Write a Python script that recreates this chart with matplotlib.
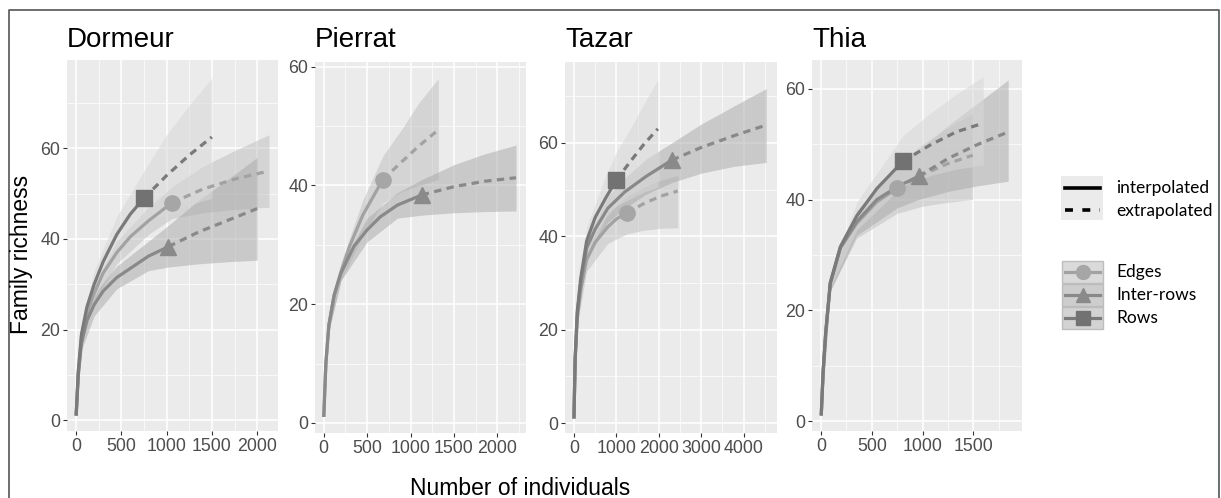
import matplotlib
matplotlib.use("Agg")
import matplotlib.pyplot as plt
from matplotlib.patches import Rectangle
from matplotlib.lines import Line2D
from matplotlib.ticker import MultipleLocator

plt.rcParams['font.family'] = ['Liberation Sans', 'DejaVu Sans']

# ---- data ----
sites = ['Dormeur', 'Pierrat', 'Tazar', 'Thia']
groups = ['Edges', 'Inter-rows', 'Rows']

# Dormeur
dor_edges_n = [1, 25, 60, 120, 200, 300, 450, 600, 800, 1060]
dor_edges_s = [1, 10.5, 18.5, 23.5, 28, 32.5, 37, 40.5, 44, 48]
dor_edges_en = [1060, 1400, 1750, 2130]
dor_edges_es = [48, 51, 53.2, 55]
dor_edges_bn = [1, 60, 200, 450, 800, 1060, 1400, 1750, 2130]
dor_edges_hi = [1, 20, 30, 39.5, 47, 51.5, 56, 59.5, 63]
dor_edges_lo = [1, 17, 26, 34.5, 41, 44.5, 45.8, 46.5, 47]

dor_inter_n = [1, 25, 60, 120, 200, 300, 450, 600, 800, 1020]
dor_inter_s = [1, 10, 17, 22, 25.5, 28.5, 31.5, 33.5, 36.2, 38.3]
dor_inter_en = [1020, 1350, 1700, 2000]
dor_inter_es = [38.3, 41.5, 44.3, 46.7]
dor_inter_bn = [1, 60, 200, 450, 800, 1020, 1350, 1700, 2000]
dor_inter_hi = [1, 18.5, 28, 34, 39.5, 43, 48.5, 53.5, 58]
dor_inter_lo = [1, 15.5, 23, 29, 33, 33.8, 34.5, 35, 35.3]

dor_rows_n = [1, 25, 60, 120, 200, 300, 450, 600, 750]
dor_rows_s = [1, 11, 19, 25, 30, 35, 41, 45.5, 49]
dor_rows_en = [750, 1000, 1250, 1500]
dor_rows_es = [49, 54, 58.5, 62.5]
dor_rows_bn = [1, 60, 200, 450, 750, 1000, 1250, 1500]
dor_rows_hi = [1, 21, 33, 45, 55, 63, 69.5, 75.5]
dor_rows_lo = [1, 17, 27, 37, 43, 45.5, 47.5, 49]

# Pierrat
pie_edges_n = [1, 25, 60, 120, 200, 300, 450, 682]
pie_edges_s = [1, 10, 16.5, 21.5, 25.5, 29.8, 35, 41]
pie_edges_en = [682, 900, 1100, 1290]
pie_edges_es = [41, 44, 46.7, 49]
pie_edges_bn = [1, 60, 200, 450, 682, 900, 1100, 1320]
pie_edges_hi = [1, 17.5, 27, 37.5, 45, 49.5, 54, 58]
pie_edges_lo = [1, 15.5, 24, 31.5, 37, 39, 40, 41]

pie_inter_n = [1, 25, 60, 120, 200, 350, 500, 650, 850, 1130]
pie_inter_s = [1, 10, 16.5, 21.5, 25.3, 29.8, 32.5, 34.7, 36.7, 38.4]
pie_inter_en = [1130, 1500, 1850, 2215]
pie_inter_es = [38.4, 39.8, 40.7, 41.3]
pie_inter_bn = [1, 60, 200, 500, 850, 1130, 1500, 1850, 2215]
pie_inter_hi = [1, 17.5, 26.5, 34.5, 38.8, 41, 43.5, 45.3, 46.8]
pie_inter_lo = [1, 15.5, 24, 30.5, 34.5, 35, 35.4, 35.6, 35.7]

# Tazar
taz_edges_n = [1, 30, 80, 160, 300, 500, 800, 1000, 1250]
taz_edges_s = [1, 13.5, 22.5, 28.5, 35, 38.7, 42, 43.7, 45]
taz_edges_en = [1250, 1650, 2050, 2450]
taz_edges_es = [45, 47, 48.6, 49.7]
taz_edges_bn = [1, 80, 300, 800, 1250, 1650, 2050, 2450]
taz_edges_hi = [1, 24, 37.5, 45, 48.5, 50.5, 52, 53]
taz_edges_lo = [1, 21, 32.5, 38.5, 40.5, 41.3, 41.7, 41.8]

taz_inter_n = [1, 30, 80, 160, 300, 500, 800, 1200, 1700, 2310]
taz_inter_s = [1, 14, 23.5, 30, 37.5, 41.5, 46, 49.5, 52.8, 56.3]
taz_inter_en = [2310, 3000, 3800, 4535]
taz_inter_es = [56.3, 59, 61.6, 63.8]
taz_inter_bn = [1, 80, 300, 800, 1200, 1700, 2310, 3000, 3800, 4535]
taz_inter_hi = [1, 25, 39.5, 48.5, 52.5, 56.5, 60, 64, 68, 71.6]
taz_inter_lo = [1, 22, 35, 43, 46, 49, 51.5, 53.5, 55, 55.8]

taz_rows_n = [1, 30, 80, 160, 300, 500, 750, 1000]
taz_rows_s = [1, 14, 24, 31, 39, 44, 48.2, 52]
taz_rows_en = [1000, 1330, 1660, 1980]
taz_rows_es = [52, 56, 59.8, 63]
taz_rows_bn = [1, 80, 300, 750, 1000, 1330, 1660, 1980]
taz_rows_hi = [1, 26, 42, 53, 58, 63, 68.5, 73.5]
taz_rows_lo = [1, 22, 35.5, 44, 46.5, 48, 49.5, 50.5]

# Thia
thi_edges_n = [1, 20, 45, 90, 190, 350, 550, 747]
thi_edges_s = [1, 9, 15.8, 24.8, 31.3, 35.7, 39.6, 42]
thi_edges_en = [747, 1000, 1250, 1494]
thi_edges_es = [42, 44.5, 46.5, 48]
thi_edges_bn = [1, 90, 350, 747, 1000, 1250, 1494]
thi_edges_hi = [1, 26, 38, 46.5, 50, 53, 55.5]
thi_edges_lo = [1, 23.5, 33, 37.5, 38.8, 39.5, 40]

thi_inter_n = [1, 20, 45, 90, 190, 350, 550, 750, 960]
thi_inter_s = [1, 9, 15.8, 24.8, 31.3, 36, 40, 42.3, 44.2]
thi_inter_en = [960, 1260, 1550, 1844]
thi_inter_es = [44.2, 47.5, 50, 52.2]
thi_inter_bn = [1, 90, 350, 750, 960, 1260, 1550, 1844]
thi_inter_hi = [1, 26, 38, 46, 49, 53.5, 57.5, 61.6]
thi_inter_lo = [1, 23.5, 33.5, 38.5, 40, 41.5, 42.5, 43.3]

thi_rows_n = [1, 20, 45, 90, 190, 350, 550, 806]
thi_rows_s = [1, 9, 16, 25, 31.5, 37, 42, 46.9]
thi_rows_en = [806, 1070, 1330, 1598]
thi_rows_es = [46.9, 49.8, 52.2, 53.8]
thi_rows_bn = [1, 90, 350, 806, 1070, 1330, 1598]
thi_rows_hi = [1, 26, 39.5, 51.5, 55.5, 59, 62.2]
thi_rows_lo = [1, 24, 34.5, 42.5, 44.3, 45.5, 46.2]

series = {
    'Dormeur': [
        ('Edges', dor_edges_n, dor_edges_s, dor_edges_en, dor_edges_es, dor_edges_bn, dor_edges_lo, dor_edges_hi),
        ('Inter-rows', dor_inter_n, dor_inter_s, dor_inter_en, dor_inter_es, dor_inter_bn, dor_inter_lo, dor_inter_hi),
        ('Rows', dor_rows_n, dor_rows_s, dor_rows_en, dor_rows_es, dor_rows_bn, dor_rows_lo, dor_rows_hi)],
    'Pierrat': [
        ('Edges', pie_edges_n, pie_edges_s, pie_edges_en, pie_edges_es, pie_edges_bn, pie_edges_lo, pie_edges_hi),
        ('Inter-rows', pie_inter_n, pie_inter_s, pie_inter_en, pie_inter_es, pie_inter_bn, pie_inter_lo, pie_inter_hi)],
    'Tazar': [
        ('Edges', taz_edges_n, taz_edges_s, taz_edges_en, taz_edges_es, taz_edges_bn, taz_edges_lo, taz_edges_hi),
        ('Inter-rows', taz_inter_n, taz_inter_s, taz_inter_en, taz_inter_es, taz_inter_bn, taz_inter_lo, taz_inter_hi),
        ('Rows', taz_rows_n, taz_rows_s, taz_rows_en, taz_rows_es, taz_rows_bn, taz_rows_lo, taz_rows_hi)],
    'Thia': [
        ('Edges', thi_edges_n, thi_edges_s, thi_edges_en, thi_edges_es, thi_edges_bn, thi_edges_lo, thi_edges_hi),
        ('Inter-rows', thi_inter_n, thi_inter_s, thi_inter_en, thi_inter_es, thi_inter_bn, thi_inter_lo, thi_inter_hi),
        ('Rows', thi_rows_n, thi_rows_s, thi_rows_en, thi_rows_es, thi_rows_bn, thi_rows_lo, thi_rows_hi)],
}

# axis setup per panel
xlims = {'Dormeur': (-100, 2230), 'Pierrat': (-100, 2330), 'Tazar': (-210, 4790), 'Thia': (-90, 1980)}
ylims = {'Dormeur': (-2.4, 79.5), 'Pierrat': (-1.7, 60.8), 'Tazar': (-2.1, 77.3), 'Thia': (-1.8, 65.2)}
xsteps = {'Dormeur': 500, 'Pierrat': 500, 'Tazar': 1000, 'Thia': 500}
xmax_tick = {'Dormeur': 2000, 'Pierrat': 2000, 'Tazar': 4000, 'Thia': 1500}

line_col = {'Edges': '#a2a2a2', 'Inter-rows': '#898989', 'Rows': '#7a7a7a'}
mark_col = {'Edges': '#a6a6a6', 'Inter-rows': '#8a8a8a', 'Rows': '#727272'}
band_col = {'Edges': '#b8b8b8', 'Inter-rows': '#a8a8a8', 'Rows': '#d8d8d8'}
band_alpha = {'Edges': 0.45, 'Inter-rows': 0.5, 'Rows': 0.55}
markers = {'Edges': 'o', 'Inter-rows': '^', 'Rows': 's'}

W, H = 1221, 498
fig = plt.figure(figsize=(12.21, 4.98), dpi=100)
fig.patch.set_facecolor('white')

# panel boxes in pixels: left, top, right, bottom
boxes = {'Dormeur': (67, 60, 278, 431), 'Pierrat': (315, 62, 526, 433),
         'Tazar': (565, 62, 777, 433), 'Thia': (812, 60, 1022, 431)}

for site in sites:
    l, t, r, b = boxes[site]
    ax = fig.add_axes([l / W, 1 - b / H, (r - l) / W, (b - t) / H])
    ax.set_facecolor('#ebebeb')
    for sp in ax.spines.values():
        sp.set_visible(False)
    step = xsteps[site]
    ax.set_xticks(list(range(0, xmax_tick[site] + 1, step)))
    ax.xaxis.set_minor_locator(MultipleLocator(step / 2))
    ax.set_yticks([0, 20, 40, 60])
    ax.yaxis.set_minor_locator(MultipleLocator(10))
    ax.grid(which='major', color='white', lw=1.1)
    ax.grid(which='minor', color='white', lw=0.5)
    ax.set_axisbelow(True)
    ax.tick_params(which='major', length=3, width=0.8, color='#333333',
                   labelcolor='#4d4d4d', labelsize=12.8, pad=2)
    ax.tick_params(which='minor', length=0)
    ax.set_xlim(*xlims[site])
    ax.set_ylim(*ylims[site])

    for (g, n, s, en, es, bn, lo, hi) in series[site]:
        ax.fill_between(bn, lo, hi, color=band_col[g], alpha=band_alpha[g], lw=0, zorder=2)
    for (g, n, s, en, es, bn, lo, hi) in series[site]:
        ax.plot(n, s, color=line_col[g], lw=2.3, zorder=3, solid_capstyle='butt')
        ax.plot(en, es, color=line_col[g], lw=2.3, dashes=(2.3, 1.7), zorder=3)
        ax.plot(n[-1], s[-1], marker=markers[g], color=mark_col[g], ms=11, zorder=4, lw=0)

# overlay in pixel coordinates for titles, labels, legend and frame
ov = fig.add_axes([0, 0, 1, 1])
ov.set_xlim(0, W)
ov.set_ylim(H, 0)
ov.axis('off')
ov.patch.set_alpha(0)

for site in sites:
    ov.text(boxes[site][0], 47, site, fontsize=20, ha='left', va='baseline')

ov.text(22, 254, 'Family richness', rotation=90, fontsize=16.5, ha='center', va='center')
ov.text(520, 495, 'Number of individuals', fontsize=16.5, ha='center', va='baseline')

# frame
ov.add_line(Line2D([9, 9, 1219, 1219], [H + 5, 10, 10, H + 5], color='#555555', lw=1.2))

# line-type legend
ov.add_patch(Rectangle((1061, 176), 42, 44, facecolor='#ebebeb', edgecolor='none'))
ov.add_line(Line2D([1065, 1100], [187.5, 187.5], color='black', lw=2.6))
ov.add_line(Line2D([1065, 1100], [210, 210], color='black', lw=2.6, dashes=(2.2, 2.6)))
lfont = ['Lato', 'DejaVu Sans']
ov.text(1116, 187.5, 'interpolated', fontsize=12.5, va='center', family=lfont)
ov.text(1116, 210.5, 'extrapolated', fontsize=12.5, va='center', family=lfont)

# group legend
key_y = [271.5, 294.5, 317.5]
key_bg = {'Edges': '#dadada', 'Inter-rows': '#cdcdcd', 'Rows': '#d3d3d3'}
for g, yk in zip(groups, key_y):
    ov.add_patch(Rectangle((1062, yk - 11), 41, 22, facecolor=key_bg[g], edgecolor='#bdbdbd', lw=1))
    ov.add_line(Line2D([1065, 1100], [yk, yk], color=line_col[g], lw=2.3))
    ov.plot([1082.5], [yk], marker=markers[g], color=mark_col[g], ms=10, lw=0)
    ov.text(1116, yk, g, fontsize=12.5, va='center', family=lfont)

fig.savefig('out.png', dpi=100)
